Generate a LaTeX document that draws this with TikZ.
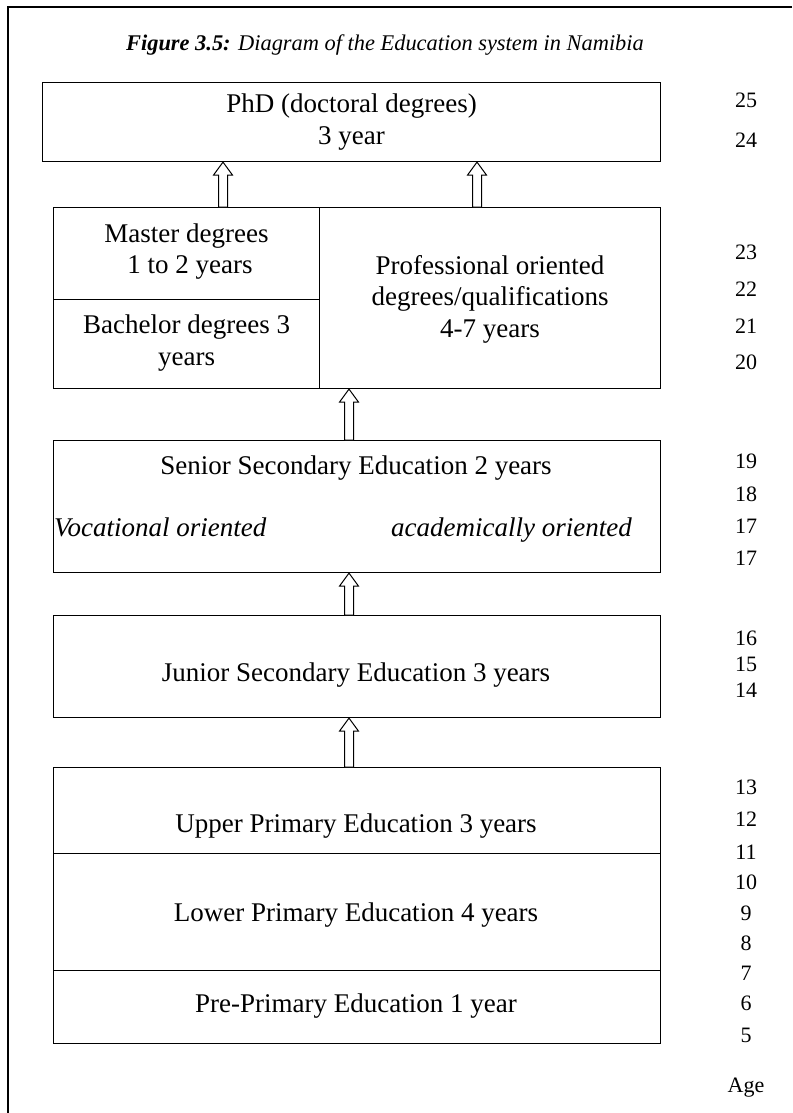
\documentclass[tikz,border=0pt]{standalone}
\usepackage{fontspec}
\setmainfont{Liberation Serif}
\usetikzlibrary{calc}
\newcommand\blockup[2]{%
  \draw[blockarrow] let \p1=(#1), \p2=(#2) in
    (\x1-4.5pt,\y1) -- (\x1-4.5pt,\y2-13pt) -- (\x1-9.5pt,\y2-13pt) --
    (\x1,\y2) -- (\x1+9.5pt,\y2-13pt) -- (\x1+4.5pt,\y2-13pt) --
    (\x1+4.5pt,\y1) -- cycle;}
\begin{document}
\begin{tikzpicture}[x=1pt,y=-1pt,
  box/.style={draw, line width=1.1pt, inner sep=0pt, anchor=north west},
  txt/.style={font=\fontsize{27}{31.5}\selectfont, align=center, inner sep=0pt},
  itxt/.style={font=\fontsize{27}{31.5}\selectfont\itshape, inner sep=0pt},
  agetxt/.style={font=\fontsize{22}{24}\selectfont, inner sep=0pt},
  captxt/.style={font=\fontsize{22.4}{26}\selectfont\itshape, inner sep=0pt},
  blockarrow/.style={draw, line width=1pt, fill=white}]
\useasboundingbox (0,0) rectangle (792,1113);
% outer frame
\draw[line width=1.5pt] (792,7) -- (8,7) -- (8,1113);
% caption
\node[captxt] (cap) at (385,45) {\textbf{Figure 3.5:} Diagram of the Education system in Namibia};
% arrow anchors
\coordinate (a1s) at (223,207);
\coordinate (a2s) at (477,207);
\coordinate (a3s) at (349,440);
\coordinate (a4s) at (349,615);
\coordinate (a5s) at (349,767);
% boxes
\node[box, minimum width=618pt, minimum height=79pt] (phd) at (42,82) {};
\node[box, minimum width=266pt, minimum height=92pt] (master) at (53,207) {};
\node[box, minimum width=266pt, minimum height=89pt] (bachelor) at (53,299) {};
\node[box, minimum width=341pt, minimum height=181pt] (prof) at (319,207) {};
\node[box, minimum width=607pt, minimum height=132pt] (senior) at (53,440) {};
\node[box, minimum width=607pt, minimum height=102pt] (junior) at (53,615) {};
\node[box, minimum width=607pt, minimum height=86pt] (upper) at (53,767) {};
\node[box, minimum width=607pt, minimum height=117pt] (lower) at (53,853) {};
\node[box, minimum width=607pt, minimum height=73pt] (pre) at (53,970) {};
% arrows
\blockup{a1s}{a1s |- phd.south}
\blockup{a2s}{a2s |- phd.south}
\blockup{a3s}{a3s |- bachelor.south}
\blockup{a4s}{a4s |- senior.south}
\blockup{a5s}{a5s |- junior.south}
% texts
\node[txt] (tphd) at (phd.center) {PhD (doctoral degrees)\\3 year};
\node[txt] (tmaster) at ([yshift=2pt]master.center) {Master degrees\\\ 1 to 2 years};
\node[txt] (tbach) at ([yshift=1pt]bachelor.center) {Bachelor degrees 3\\years};
\node[txt] (tprof) at ([yshift=-1pt]prof.center) {Professional oriented\\degrees/qualifications\\4-7 years};
\node[txt] (tsen) at (356,468) {Senior Secondary Education 2 years};
\node[itxt, anchor=base west] (tvoc) at (54,536) {Vocational oriented};
\node[itxt, anchor=base east] (tacad) at (632,536) {academically oriented};
\node[txt] (tjun) at (356,675) {Junior Secondary Education 3 years};
\node[txt] (tupp) at (356,826) {Upper Primary Education 3 years};
\node[txt] (tlow) at (356,915) {Lower Primary Education 4 years};
\node[txt] (tpre) at (356,1006) {Pre-Primary Education 1 year};
% ages
\foreach \a/\yy [count=\i] in {25/100,24/140,23/252,22/289,21/326,20/362,
  19/461,18/494,17/526,17/558,16/638,15/664,14/690,
  13/787,12/819,11/852,10/882,9/913,8/943,7/973,6/1003,5/1035}
  \node[agetxt] (age\i) at (746,\yy) {\a};
\node[agetxt] (agelbl) at (746,1088) {Age};
\end{tikzpicture}
\end{document}
